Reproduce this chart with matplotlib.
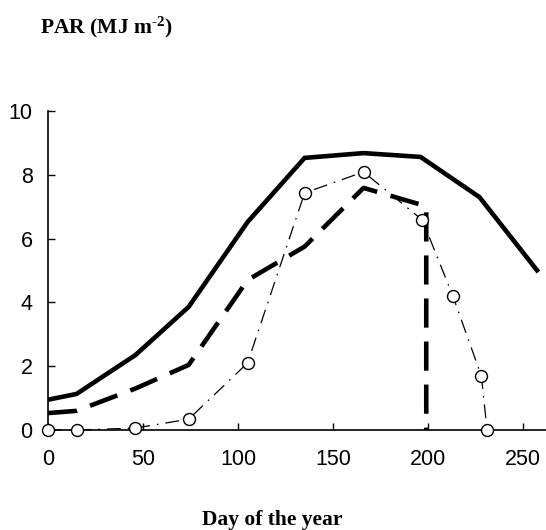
import matplotlib
matplotlib.use("Agg")
import matplotlib.pyplot as plt

# Data
solid_days = [0, 15, 46, 74, 105, 135, 166, 196, 227, 258]
solid_par = [0.95, 1.13, 2.35, 3.86, 6.52, 8.53, 8.68, 8.56, 7.3, 4.95]

dashed_days = [0, 15, 46, 74, 105, 135, 166, 197, 199, 199]
dashed_par = [0.53, 0.6, 1.3, 2.04, 4.7, 5.75, 7.59, 7.05, 7.0, 0.0]

circle_days = [0, 15, 46, 74, 105, 135, 166, 197, 213, 228, 231]
circle_par = [0.0, 0.0, 0.06, 0.34, 2.1, 7.43, 8.09, 6.58, 4.2, 1.69, 0.0]

xticks = [0, 50, 100, 150, 200, 250]
yticks = [0, 2, 4, 6, 8, 10]

plt.rcParams['lines.scale_dashes'] = False
plt.rcParams['mathtext.fontset'] = 'custom'
plt.rcParams['mathtext.rm'] = 'Liberation Serif:bold'
plt.rcParams['mathtext.default'] = 'regular'

W, H = 546, 530
fig = plt.figure(figsize=(W / 100, H / 100), dpi=100)
left_px, right_px, bottom_px, top_px = 48, 546, 430, 111
ax = fig.add_axes([left_px / W, 1 - bottom_px / H,
                   (right_px - left_px) / W, (bottom_px - top_px) / H])

ax.plot(solid_days, solid_par, color='black', lw=3.3, solid_joinstyle='miter',
        solid_capstyle='butt', zorder=3)
ax.plot(dashed_days, dashed_par, color='black', lw=3.3, dashes=(21, 10),
        dash_capstyle='butt', zorder=3)
ax.plot(circle_days, circle_par, color='black', lw=0.9, dashes=(10, 5, 1.2, 5),
        marker='o', markersize=8.6, markerfacecolor='white',
        markeredgecolor='black', markeredgewidth=1.0, zorder=4, clip_on=False)

ax.set_xlim(0, 262)
ax.set_ylim(0, 10)
ax.set_xticks(xticks)
ax.set_yticks(yticks)
for s in ['top', 'right']:
    ax.spines[s].set_visible(False)
for s in ['left', 'bottom']:
    ax.spines[s].set_linewidth(1.2)
ax.tick_params(axis='both', direction='in', length=5, width=1.0,
               labelsize=15.5, labelfontfamily='Liberation Sans')
ax.tick_params(axis='y', pad=11)
ax.tick_params(axis='x', pad=14)

fig.text(40 / W, 1 - 33 / H, r'PAR (MJ m$^{\text{-2}}$)', fontsize=15.5,
         family='Liberation Serif', fontweight='bold', ha='left', va='baseline')
fig.text(272 / W, 1 - 525 / H, 'Day of the year', fontsize=15.5,
         family='Liberation Serif', fontweight='bold', ha='center', va='baseline')

fig.savefig('out.png', dpi=100)
